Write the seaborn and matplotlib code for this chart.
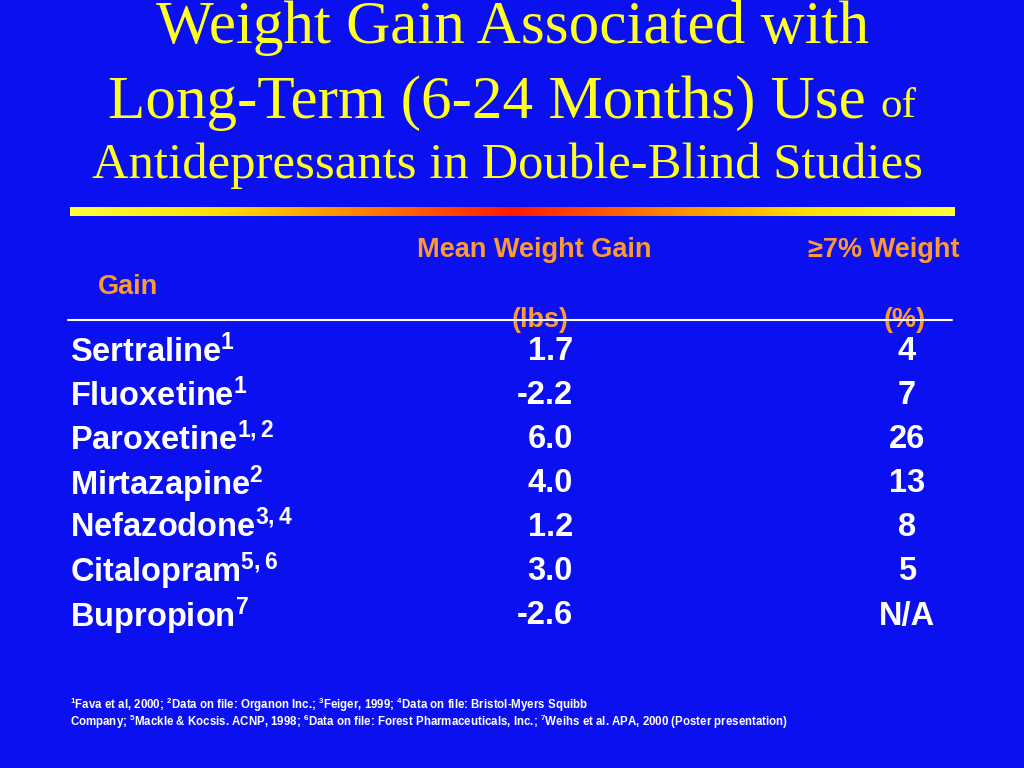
import numpy as np
import matplotlib
matplotlib.use("Agg")
import matplotlib.pyplot as plt
import seaborn as sns
from matplotlib.colors import LinearSegmentedColormap

sns.set_theme(style="white")
plt.rcParams['mathtext.fontset'] = 'custom'
plt.rcParams['mathtext.rm'] = 'Liberation Sans:bold'
plt.rcParams['mathtext.bf'] = 'Liberation Sans:bold'
plt.rcParams['mathtext.default'] = 'bf'

# data
drugs = ["Sertraline", "Fluoxetine", "Paroxetine", "Mirtazapine", "Nefazodone", "Citalopram", "Bupropion"]
refs = ["1", "1", "1, 2", "2", "3, 4", "5, 6", "7"]
mean_gain = ["1.7", "-2.2", "6.0", "4.0", "1.2", "3.0", "-2.6"]
pct_gain = ["4", "7", "26", "13", "8", "5", "N/A"]

BG = "#0a10f0"
YEL = "#ffff22"
ORG = "#ff9933"

fig = plt.figure(figsize=(10.24, 7.68), dpi=100, facecolor=BG)
ax = fig.add_axes([0, 0, 1, 1])
ax.set_facecolor(BG)
ax.set_xlim(0, 1024)
ax.set_ylim(768, 0)
ax.axis("off")

serif = "Liberation Serif"
sans = "Liberation Sans"

# title
ax.text(512, 28, "Weight Gain Associated with", color=YEL, family=serif, fontsize=44, ha="center", va="center")
fig.canvas.draw()
r = fig.canvas.get_renderer()
t1 = ax.text(0, 103, "Long-Term (6-24 Months) Use ", color=YEL, family=serif, fontsize=44, va="center")
t2 = ax.text(0, 107, "of", color=YEL, family=serif, fontsize=31, va="center")
w1 = t1.get_window_extent(r).width
w2 = t2.get_window_extent(r).width
x0 = 512 - (w1 + w2) / 2
t1.set_x(x0)
t2.set_x(x0 + w1)
ax.text(508, 166, "Antidepressants in Double-Blind Studies", color=YEL, family=serif, fontsize=36.5, ha="center", va="center")

# gradient bar
grad = np.abs(np.linspace(-1, 1, 512))[None, :]
cmap = LinearSegmentedColormap.from_list("yr", ["#ff1a00", "#ff8000", "#ffe000", "#ffff40"])
ax.imshow(grad, cmap=cmap, extent=[70, 955, 216, 207], aspect="auto", zorder=2)

# header
hkw = dict(color=ORG, family=sans, fontsize=19.5, fontweight="bold", va="center")
ax.text(417, 250, "Mean Weight Gain", ha="left", **hkw)
ax.text(960, 250, "\u22657% Weight", ha="right", **hkw)
ax.text(98, 287, "Gain", ha="left", **hkw)
ax.text(540, 320, "(lbs)", ha="center", **hkw)
ax.text(905, 320, "(%)", ha="center", **hkw)
ax.plot([68, 952], [320, 320], color="white", lw=1.5, zorder=3)

# rows
ys = [352, 396, 440, 484, 527, 571, 616]
for y, d, rf, m, p in zip(ys, drugs, refs, mean_gain, pct_gain):
    ax.text(70, y, d + r"$^{" + rf.replace(" ", "") + "}$", color="white", family=sans,
            fontsize=23.5, fontweight="bold", va="center", ha="left")
    ax.text(573, y, m, color="white", family=sans, fontsize=23.5, fontweight="bold", va="center", ha="right")
    ax.text(907, y, p, color="white", family=sans, fontsize=23.5, fontweight="bold", va="center", ha="center")

# footnote
fkw = dict(color="white", family=sans, fontsize=8.3, fontweight="bold", va="center", ha="left")
ax.text(70, 705, r"$^{1}$Fava et al, 2000; $^{2}$Data on file: Organon Inc.; $^{3}$Feiger, 1999; "
        r"$^{4}$Data on file: Bristol-Myers Squibb", **fkw)
ax.text(70, 722, r"Company; $^{5}$Mackle & Kocsis. ACNP, 1998; $^{6}$Data on file: Forest Pharmaceuticals, Inc.; "
        r"$^{7}$Weihs et al. APA, 2000 (Poster presentation)", **fkw)

fig.savefig("out.png", dpi=100, facecolor=BG)
